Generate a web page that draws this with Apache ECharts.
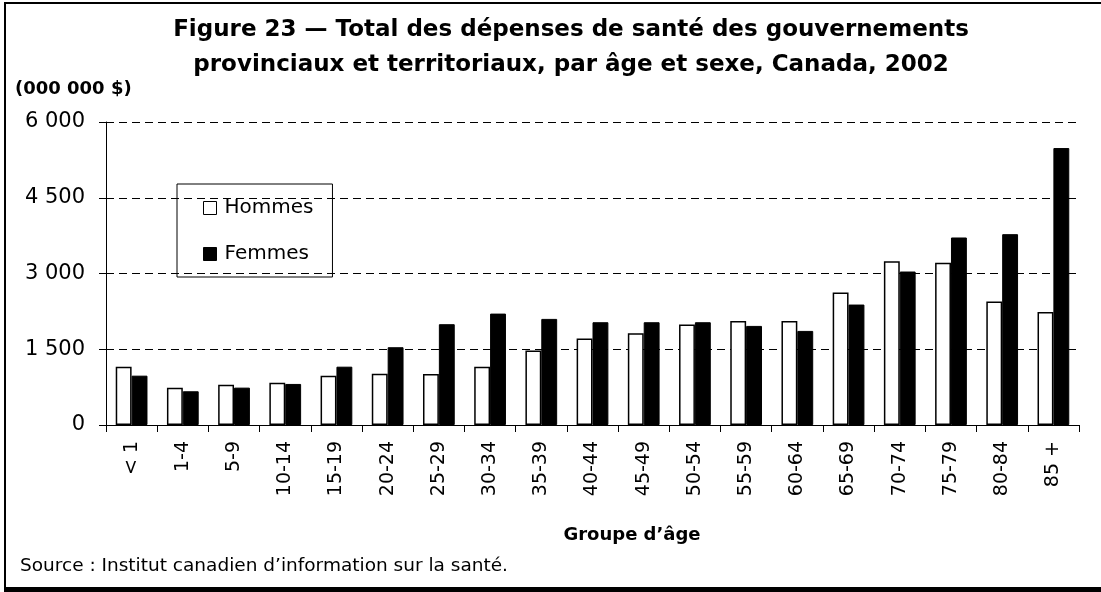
<!DOCTYPE html>
<html>
<head>
<meta charset="utf-8">
<script src="https://cdn.jsdelivr.net/npm/echarts@6/dist/echarts.min.js"></script>
<style>
  html, body { margin: 0; padding: 0; background: #fff; }
  #chart { width: 1101px; height: 592px; }
</style>
</head>
<body>
<div id="chart"></div>
<script>
const categories = ['< 1', '1-4', '5-9', '10-14', '15-19', '20-24', '25-29', '30-34', '35-39', '40-44',
  '45-49', '50-54', '55-59', '60-64', '65-69', '70-74', '75-79', '80-84', '85 +']
const hommes = [1155, 740, 799, 838, 977, 1017, 1011, 1155, 1473, 1711, 1817, 1988, 2061, 2061, 2622, 3244, 3211, 2444, 2240]
const femmes = [977, 668, 740, 813, 1155, 1540, 1996, 2206, 2101, 2035, 2035, 2035, 1962, 1863, 2385, 3039, 3713, 3779, 5484]
const yTicks = { min: 0, max: 6000, interval: 1500 }

const titleLines = [
  'Figure 23 — Total des dépenses de santé des gouvernements',
  'provinciaux et territoriaux, par âge et sexe, Canada, 2002',
]
const unitLabel = '(000 000 $)'
const xName = 'Groupe d’âge'
const sourceText = 'Source : Institut canadien d’information sur la santé.'

const font = 'DejaVu Sans'

function spaced(v) {
  return String(v).replace(/\B(?=(\d{3})+(?!\d))/g, ' ')
}

const chart = echarts.init(document.getElementById('chart'), null, { renderer: 'canvas' })

chart.setOption({
  animation: false,
  backgroundColor: '#fff',
  textStyle: { fontFamily: font, color: '#000' },
  legend: {
    orient: 'vertical',
    left: 177,
    top: 184,
    padding: [14, 19, 13, 26],
    itemGap: 26,
    itemWidth: 13,
    itemHeight: 13,
    itemStyle: { borderWidth: 1 },
    icon: 'rect',
    borderColor: '#000',
    borderWidth: 1,
    textStyle: { fontFamily: font, fontSize: 20, color: '#000', lineHeight: 20, padding: [0, 0, 0, 3] },
    data: ['Hommes', 'Femmes'],
  },
  grid: { left: 106, right: 22, top: 122, bottom: 167 },
  xAxis: {
    type: 'category',
    data: categories,
    axisLine: { lineStyle: { color: '#000', width: 1 } },
    axisTick: { show: true, length: 7, alignWithLabel: false, lineStyle: { color: '#000' } },
    axisLabel: { rotate: 90, margin: 16, fontFamily: font, fontSize: 19, color: '#000', interval: 0 },
  },
  yAxis: {
    type: 'value',
    min: yTicks.min,
    max: yTicks.max,
    interval: yTicks.interval,
    axisLine: { show: true, lineStyle: { color: '#000', width: 1 } },
    axisTick: { show: true, length: 7, lineStyle: { color: '#000' } },
    axisLabel: { fontFamily: font, fontSize: 21, color: '#000', margin: 21, formatter: spaced },
    splitLine: { show: true, lineStyle: { color: '#000', type: [8, 5], width: 1 } },
  },
  series: [
    {
      name: 'Hommes',
      type: 'bar',
      data: hommes,
      barGap: '0%',
      barCategoryGap: '38%',
      itemStyle: { color: '#fff', borderColor: '#000', borderWidth: 1.5 },
    },
    {
      name: 'Femmes',
      type: 'bar',
      data: femmes,
      itemStyle: { color: '#000', borderColor: '#000', borderWidth: 1 },
    },
  ],
  graphic: [
    { type: 'text', x: 571, y: 30, style: { text: titleLines[0], fontFamily: font, fontSize: 23, fontWeight: 'bold', fill: '#000', align: 'center', verticalAlign: 'middle' } },
    { type: 'text', x: 571, y: 65, style: { text: titleLines[1], fontFamily: font, fontSize: 23, fontWeight: 'bold', fill: '#000', align: 'center', verticalAlign: 'middle' } },
    { type: 'text', x: 15, y: 89, style: { text: unitLabel, fontFamily: font, fontSize: 18, fontWeight: 'bold', fill: '#000', verticalAlign: 'middle' } },
    { type: 'text', x: 632, y: 535, style: { text: xName, fontFamily: font, fontSize: 18, fontWeight: 'bold', fill: '#000', align: 'center', verticalAlign: 'middle' } },
    { type: 'text', x: 20, y: 566, style: { text: sourceText, fontFamily: font, fontSize: 18.5, fill: '#000', verticalAlign: 'middle' } },
    // frame: thin top/left, heavy bottom
    { type: 'rect', shape: { x: 4, y: 2, width: 2, height: 590 }, style: { fill: '#000' } },
    { type: 'rect', shape: { x: 4, y: 2, width: 1097, height: 2 }, style: { fill: '#000' } },
    { type: 'rect', shape: { x: 4, y: 587, width: 1097, height: 5 }, style: { fill: '#000' } },
  ],
})
</script>
</body>
</html>
